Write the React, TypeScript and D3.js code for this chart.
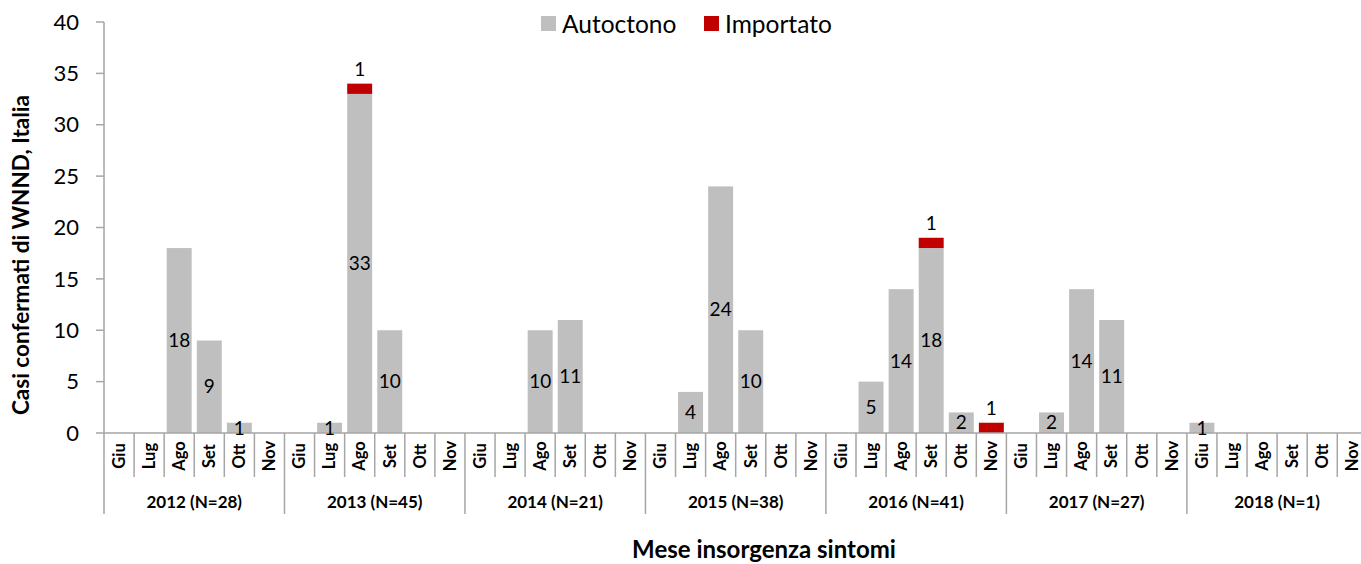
import React from "react";
import * as d3 from "d3";

const years = ["2012", "2013", "2014", "2015", "2016", "2017", "2018"];
const yearLabels = ["2012 (N=28)", "2013 (N=45)", "2014 (N=21)", "2015 (N=38)", "2016 (N=41)", "2017 (N=27)", "2018 (N=1)"];
const months = ["Giu", "Lug", "Ago", "Set", "Ott", "Nov"];
// one row per year, one value per month
const autoctono = [
  [0, 0, 18, 9, 1, 0],
  [0, 1, 33, 10, 0, 0],
  [0, 0, 10, 11, 0, 0],
  [0, 4, 24, 10, 0, 0],
  [0, 5, 14, 18, 2, 0],
  [0, 2, 14, 11, 0, 0],
  [1, 0, 0, 0, 0, 0],
];
const importato = [
  [0, 0, 0, 0, 0, 0],
  [0, 0, 1, 0, 0, 0],
  [0, 0, 0, 0, 0, 0],
  [0, 0, 0, 0, 0, 0],
  [0, 0, 0, 1, 0, 1],
  [0, 0, 0, 0, 0, 0],
  [0, 0, 0, 0, 0, 0],
];
const yTicks = [0, 5, 10, 15, 20, 25, 30, 35, 40];

const W = 1361;
const H = 564;
const left = 104;
const step = 30.08;
const font = "Lato, 'Open Sans', sans-serif";
const grey = "#BFBFBF";
const red = "#C00000";
const axisCol = "#A6A6A6";

export default function App() {
  const rows = [];
  years.forEach((y, yi) => months.forEach((m, mi) => {
    rows.push({ key: y + "-" + m, year: yi, month: m, a: autoctono[yi][mi], i: importato[yi][mi] });
  }));

  const x = d3.scaleBand()
    .domain(rows.map((r) => r.key))
    .range([left, left + step * rows.length])
    .paddingInner(0.17)
    .paddingOuter(0.085);
  const y = d3.scaleLinear().domain([0, 40]).range([433, 22]);
  const y0 = y(0);

  return (
    <svg width={W} height={H} style={{ position: "absolute", left: 0, top: 0, fontFamily: font }}>
      <rect width={W} height={H} fill="#fff" />

      {/* bars */}
      {rows.map((r) => (
        <g key={r.key}>
          {r.a > 0 && <rect x={x(r.key)} y={y(r.a)} width={x.bandwidth()} height={y0 - y(r.a)} fill={grey} />}
          {r.i > 0 && <rect x={x(r.key)} y={y(r.a + r.i)} width={x.bandwidth()} height={y(r.a) - y(r.a + r.i)} fill={red} />}
        </g>
      ))}

      {/* axes */}
      <line x1={left} x2={left} y1={y(40)} y2={514} stroke={axisCol} strokeWidth={1.5} />
      <line x1={left} x2={W} y1={y0} y2={y0} stroke={axisCol} strokeWidth={1.5} />
      {yTicks.map((t) => (
        <g key={t}>
          <line x1={96} x2={left} y1={y(t)} y2={y(t)} stroke={axisCol} strokeWidth={1.5} />
          <text x={79} y={y(t)} dy="0.35em" textAnchor="end" fontSize={22} fill="#000">{t}</text>
        </g>
      ))}

      {/* category separators */}
      {rows.map((r, k) => {
        const xs = left + step * (k + 1);
        const yearEnd = (k + 1) % months.length === 0;
        return <line key={"s" + k} x1={xs} x2={xs} y1={y0} y2={yearEnd ? 514 : 477} stroke={axisCol} strokeWidth={1.5} />;
      })}
      {rows.map((r) => (
        <text key={"m" + r.key} transform={`translate(${x(r.key) + x.bandwidth() / 2},456) rotate(-90)`}
          textAnchor="middle" dy="0.35em" fontSize={16.5} fontWeight="bold">{r.month}</text>
      ))}
      {yearLabels.map((yl, yi) => (
        <text key={yl} x={left + step * months.length * (yi + 0.5)} y={502} dy="0.35em" textAnchor="middle" fontSize={17} fontWeight="bold">{yl}</text>
      ))}

      {/* data labels */}
      {rows.map((r) => (
        <g key={"l" + r.key} fontSize={19}>
          {r.a > 0 && <text x={x(r.key) + x.bandwidth() / 2} y={(y(r.a) + y0) / 2} dy="0.35em" textAnchor="middle">{r.a}</text>}
          {r.i > 0 && <text x={x(r.key) + x.bandwidth() / 2} y={y(r.a + r.i) - 14} dy="0.35em" textAnchor="middle">{r.i}</text>}
        </g>
      ))}

      {/* legend */}
      <rect x={541} y={16} width={15} height={15} fill={grey} />
      <text x={562} y={24} dy="0.35em" fontSize={24.5}>Autoctono</text>
      <rect x={704} y={16} width={15} height={15} fill={red} />
      <text x={725} y={24} dy="0.35em" fontSize={24.5}>Importato</text>

      {/* titles */}
      <text x={764} y={550} dy="0.35em" textAnchor="middle" fontSize={24} fontWeight="bold">Mese insorgenza sintomi</text>
      <text transform={`translate(21,255) rotate(-90)`} dy="0.35em" textAnchor="middle" fontSize={22.5} fontWeight="bold">Casi confermati di WNND, Italia</text>
    </svg>
  );
}
